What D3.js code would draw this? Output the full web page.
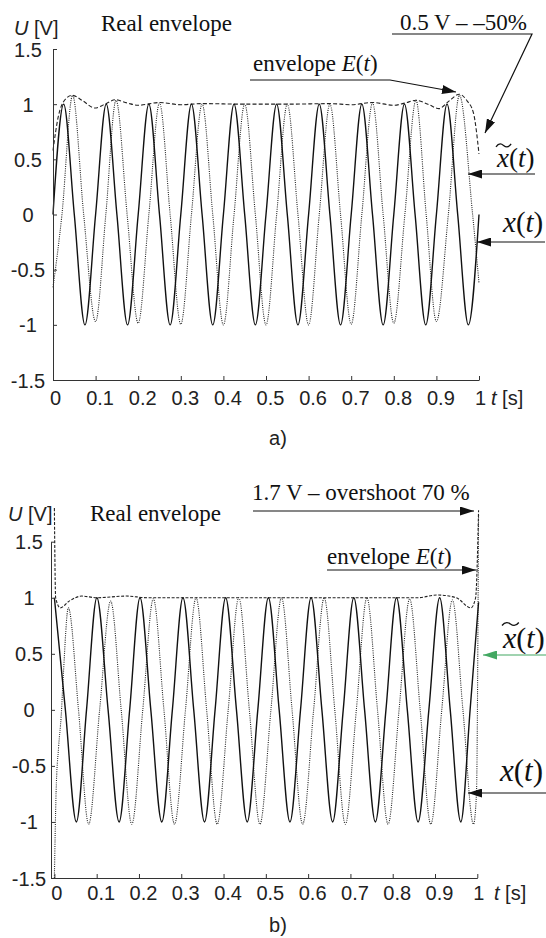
<!DOCTYPE html>
<html>
<head>
<meta charset="utf-8">
<script src="https://cdn.jsdelivr.net/npm/d3@7"></script>
<style>
  html, body { margin: 0; padding: 0; background: #fff; }
  svg { display: block; background: #fff; }
  .tick text { font-family: "Liberation Sans", Arial, sans-serif; font-size: 20px; fill: #222; }
  .sans { font-family: "Liberation Sans", Arial, sans-serif; fill: #222; }
  .serif { font-family: "Liberation Serif", "Times New Roman", serif; fill: #111; }
</style>
</head>
<body>
<svg id="chart"></svg>
<script>
"use strict";

// ticks shared by both panels
var yTicks = [-1.5, -1, -0.5, 0, 0.5, 1, 1.5];
var xTicks = [0, 0.1, 0.2, 0.3, 0.4, 0.5, 0.6, 0.7, 0.8, 0.9, 1];

// panel a) -- [t, U] knots
var aSignal = [[0,0],[0.025,1],[0.05,0],[0.075,-1],[0.1,0],[0.125,1],[0.15,0],[0.175,-1],[0.2,0],[0.225,1],
  [0.25,0],[0.275,-1],[0.3,0],[0.325,1],[0.35,0],[0.375,-1],[0.4,0],[0.425,1],[0.45,0],[0.475,-1],
  [0.5,0],[0.525,1],[0.55,0],[0.575,-1],[0.6,0],[0.625,1],[0.65,0],[0.675,-1],[0.7,0],[0.725,1],
  [0.75,0],[0.775,-1],[0.8,0],[0.825,1],[0.85,0],[0.875,-1],[0.9,0],[0.925,1],[0.95,0],[0.975,-1],[1,0]];
var aHilbert = [[0,-0.66],[0.021,0],[0.046,1.08],[0.072,0],[0.1,-0.97],[0.124,0],[0.148,1.035],[0.174,0],
  [0.2,-0.985],[0.225,0],[0.25,1.01],[0.275,0],[0.3,-0.995],[0.325,0],[0.35,1.0],[0.375,0],[0.4,-1.0],
  [0.425,0],[0.45,1.0],[0.475,0],[0.5,-1.0],[0.525,0],[0.55,1.0],[0.575,0],[0.6,-1.0],[0.625,0],[0.65,1.0],
  [0.675,0],[0.7,-0.995],[0.725,0],[0.75,1.01],[0.775,0],[0.8,-0.985],[0.826,0],[0.852,1.035],[0.876,0],
  [0.9,-0.97],[0.928,0],[0.954,1.08],[0.985,0],[1,-0.62]];
var aEnvelope = [[0,0.58],[0.012,0.88],[0.028,1.04],[0.045,1.08],[0.07,1.03],[0.098,0.965],[0.122,1.0],
  [0.146,1.04],[0.175,1.01],[0.2,0.99],[0.25,1.015],[0.3,0.995],[0.35,1.005],[0.45,1.0],[0.55,1.0],
  [0.65,1.005],[0.7,0.995],[0.75,1.015],[0.8,0.99],[0.826,1.01],[0.852,1.035],[0.88,1.0],[0.906,0.96],
  [0.93,1.03],[0.954,1.09],[0.972,1.03],[0.987,0.92],[1,0.55]];

// panel b)
var bSignal = [[0,1],[0.026,0],[0.052,-1],[0.076,0],[0.1005,1],[0.127,0],[0.153,-1],[0.178,0],[0.2025,1],
  [0.228,0],[0.254,-1],[0.279,0],[0.304,1],[0.3295,0],[0.355,-1],[0.38,0],[0.405,1],[0.4305,0],[0.456,-1],
  [0.481,0],[0.506,1],[0.5315,0],[0.557,-1],[0.582,0],[0.607,1],[0.6325,0],[0.658,-1],[0.683,0],[0.708,1],
  [0.7335,0],[0.759,-1],[0.784,0],[0.809,1],[0.8345,0],[0.86,-1],[0.8855,0],[0.911,1],[0.936,0],[0.961,-1],
  [0.983,0],[1.003,0.96]];
var bHilbert = [[0,-1.5],[0.004,-0.74],[0.01,-0.33],[0.016,-0.06],[0.021,0.3],[0.033,0.91],[0.057,0],
  [0.081,-1.02],[0.107,0],[0.133,0.97],[0.158,0],[0.183,-1.02],[0.209,0],[0.234,0.99],[0.259,0],[0.284,-1.02],
  [0.31,0],[0.335,1.0],[0.36,0],[0.385,-1.02],[0.411,0],[0.436,1.0],[0.461,0],[0.486,-1.02],[0.512,0],
  [0.537,1.0],[0.562,0],[0.587,-1.02],[0.613,0],[0.638,1.0],[0.663,0],[0.688,-1.02],[0.714,0],[0.739,1.0],
  [0.764,0],[0.789,-1.02],[0.815,0],[0.84,0.99],[0.865,0],[0.89,-1.02],[0.916,0],[0.941,0.98],[0.966,0],
  [0.991,-1.02],[0.998,-0.75],[1.003,1.75]];
var bEnvelope = [[0,1.8],[0.003,1.0],[0.014,0.91],[0.035,0.97],[0.065,1.015],[0.1,1.0],[0.17,1.015],
  [0.22,1.0],[0.86,1.0],[0.905,1.025],[0.95,1.0],[0.985,0.91],[0.996,1.0],[1.003,1.78]];

var width = 546, height = 938;
var svg = d3.select("#chart").attr("width", width).attr("height", height);
var defs = svg.append("defs");

function marker(id, color) {
    defs.append("marker")
        .attr("id", id)
        .attr("viewBox", "0 0 14 9")
        .attr("refX", 14).attr("refY", 4.5)
        .attr("markerWidth", 14).attr("markerHeight", 9)
        .attr("markerUnits", "userSpaceOnUse")
        .attr("orient", "auto")
        .append("path").attr("d", "M0,0L14,4.5L0,9Z").attr("fill", color);
}
marker("arr", "#111");
marker("arrGreen", "#43a862");

function arrow(points, color) {
    svg.append("polyline")
        .attr("points", points.map(p => p.join(",")).join(" "))
        .attr("fill", "none")
        .attr("stroke", color || "#111")
        .attr("stroke-width", 1.2)
        .attr("marker-end", color ? "url(#arrGreen)" : "url(#arr)");
}

// text with italic / upright pieces
function rich(cls, x, y, size, parts) {
    var t = svg.append("text").attr("class", cls).attr("x", x).attr("y", y).style("font-size", size + "px");
    parts.forEach(p => {
        t.append("tspan").text(p[0]).style("font-style", p[1] ? "italic" : "normal");
    });
    return t;
}

function xt(x, y, size, tilde) {
    rich("serif", x, y, size, [["x", 1], ["(", 0], ["t", 1], [")", 0]]);
    if (tilde) {
        // wide tilde drawn as a path over the x
        var w = size * 0.56, yc = y - size * 0.8, x0 = x - 1;
        svg.append("path")
            .attr("d", "M" + x0 + "," + (yc + 1.5) +
                " C" + (x0 + w * 0.2) + "," + (yc - 3) + " " + (x0 + w * 0.38) + "," + (yc - 1.5) + " " + (x0 + w * 0.5) + "," + yc +
                " S" + (x0 + w * 0.8) + "," + (yc + 3) + " " + (x0 + w) + "," + (yc - 1.5))
            .attr("fill", "none").attr("stroke", "#111").attr("stroke-width", 1.3);
    }
}

function drawPanel(p) {
    var x = d3.scaleLinear().domain(p.xDomain).range(p.xRange);
    var y = d3.scaleLinear().domain([-1.5, 1.5]).range(p.yRange);
    var g = svg.append("g");

    var line = d3.line()
        .x(d => x(d[0]))
        .y(d => y(d[1]))
        .curve(d3.curveMonotoneX);

    g.append("path").datum(p.hilbert)
        .attr("d", line).attr("fill", "none")
        .attr("stroke", "#222").attr("stroke-width", 1.1)
        .attr("stroke-dasharray", "1,1.2");
    g.append("path").datum(p.envelope)
        .attr("d", line).attr("fill", "none")
        .attr("stroke", "#222").attr("stroke-width", 1.1)
        .attr("stroke-dasharray", p.envDash);
    g.append("path").datum(p.signal)
        .attr("d", line).attr("fill", "none")
        .attr("stroke", "#111").attr("stroke-width", 1.4);

    // axes, ticks pointing inward
    g.append("g")
        .attr("transform", "translate(" + p.xRange[0] + ",0)")
        .style("color", "#333")
        .call(d3.axisLeft(y).tickValues(yTicks).tickSizeInner(-4).tickSizeOuter(0).tickFormat(d => String(d)))
        .call(a => a.selectAll("text")
            .attr("x", p.yLabelX - p.xRange[0])
            .attr("dy", "0.35em")
            .attr("text-anchor", "middle"));

    g.append("g")
        .attr("transform", "translate(0," + p.yRange[0] + ")")
        .style("color", "#333")
        .call(d3.axisBottom(x).tickValues(xTicks).tickSizeInner(-4).tickSizeOuter(0).tickFormat(d => String(d)))
        .call(a => a.selectAll("text")
            .attr("y", p.xLabelOff)
            .attr("dx", d => (d === 0 ? 2 : d === 1 ? 1 : 4))
            .attr("dy", "0.35em"));

    // axis titles
    rich("sans", p.uX, p.uY, 20, [["U", 1], [" [V]", 0]]);
    rich("sans", p.tX, p.yRange[0] + p.xLabelOff, 20, [["t", 1], [" [s]", 0]]).attr("dy", "0.35em");
    svg.append("text").attr("class", "sans")
        .attr("x", 278).attr("y", p.capY).attr("dy", "0.35em")
        .attr("text-anchor", "middle").style("font-size", "20px")
        .text(p.caption);
    svg.append("text").attr("class", "serif")
        .attr("x", p.realX).attr("y", p.realY)
        .style("font-size", "23px")
        .text("Real envelope");
}

drawPanel({
    xDomain: [0, 1], xRange: [53, 479], yRange: [380, 49],
    signal: aSignal, hilbert: aHilbert, envelope: aEnvelope, envDash: "4,2.2",
    yLabelX: 28, xLabelOff: 18, uX: 14, uY: 35, tX: 491,
    caption: "a)", capY: 438, realX: 101, realY: 31
});

drawPanel({
    xDomain: [-0.008, 1], xRange: [51, 477.3], yRange: [878, 541.7],
    signal: bSignal, hilbert: bHilbert, envelope: bEnvelope, envDash: "3,1.6",
    yLabelX: 29, xLabelOff: 15, uX: 8, uY: 521, tX: 494,
    caption: "b)", capY: 925, realX: 90, realY: 521
});

// annotations, panel a
rich("serif", 400, 30, 23, [["0.5 V – –50%", 0]]);
arrow([[392, 34], [532, 34], [485, 133]]);
rich("serif", 253, 71, 23, [["envelope ", 0], ["E", 1], ["(", 0], ["t", 1], [")", 0]]);
arrow([[250, 80], [390, 80], [456, 92]]);
xt(497, 167, 27, true);
arrow([[535, 174], [468, 174]]);
xt(503, 232, 29, false);
arrow([[545, 242], [477, 242]]);

// annotations, panel b
rich("serif", 252, 500, 23, [["1.7 V – overshoot 70 %", 0]]);
arrow([[253, 511], [474, 511]]);
rich("serif", 327, 564, 23, [["envelope ", 0], ["E", 1], ["(", 0], ["t", 1], [")", 0]]);
arrow([[327, 570], [476, 570]]);
xt(503, 648, 30, true);
arrow([[548, 655], [483, 655]], "#43a862");
xt(500, 781, 31, false);
arrow([[548, 793], [468, 793]]);
</script>
</body>
</html>
